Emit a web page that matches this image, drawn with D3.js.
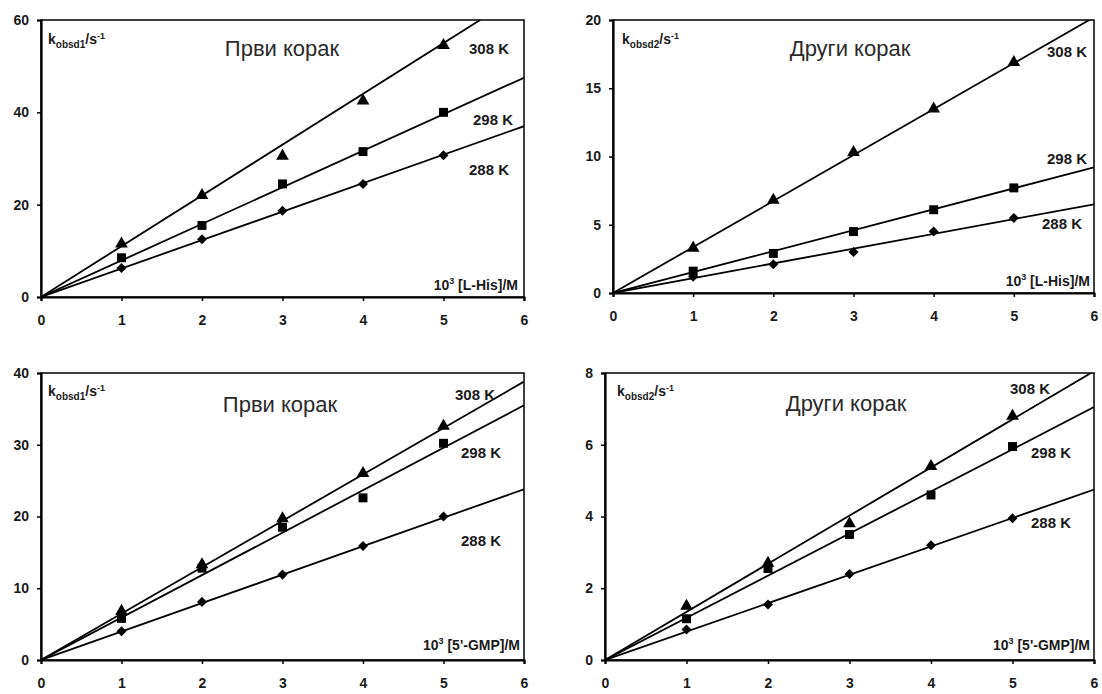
<!DOCTYPE html>
<html>
<head>
<meta charset="utf-8">
<title>kobsd vs concentration</title>
<script src="https://d3js.org/d3.v7.min.js"></script>
<style>
  body { margin: 0; background: #fff; }
  text { font-family: "Liberation Sans", Arial, sans-serif; fill: #1a1a1a; }
  .tick text { font-weight: bold; font-size: 14px; }
</style>
</head>
<body>
<script>
// x values (10^3 c / M)
var conc = [1, 2, 3, 4, 5]
var tempLabels = ["308 K", "298 K", "288 K"]

// L-His, first step
var his1_308 = [11.5, 22.0, 30.5, 42.5, 54.5]
var his1_298 = [8.5, 15.5, 24.5, 31.5, 40.0]
var his1_288 = [6.3, 12.5, 18.7, 24.5, 30.7]
var his1_fit6 = [66.0, 47.5, 37.0]   // fitted line value at x = 6

// L-His, second step
var his2_308 = [3.3, 6.8, 10.3, 13.5, 16.9]
var his2_298 = [1.6, 2.9, 4.5, 6.1, 7.7]
var his2_288 = [1.2, 2.1, 3.0, 4.5, 5.5]
var his2_fit6 = [20.2, 9.2, 6.5]

// 5'-GMP, first step
var gmp1_308 = [6.8, 13.3, 19.7, 26.0, 32.6]
var gmp1_298 = [5.8, 12.8, 18.5, 22.6, 30.2]
var gmp1_288 = [4.0, 8.1, 11.9, 15.9, 20.0]
var gmp1_fit6 = [38.8, 35.5, 23.8]

// 5'-GMP, second step
var gmp2_308 = [1.5, 2.7, 3.8, 5.4, 6.8]
var gmp2_298 = [1.15, 2.55, 3.5, 4.6, 5.95]
var gmp2_288 = [0.85, 1.55, 2.4, 3.2, 3.95]
var gmp2_fit6 = [8.05, 7.05, 4.75]

var panels = [
  { box: [41, 20, 524, 297], ymax: 60, yticks: [0, 20, 40, 60], step: "1", title: "Први корак", lig: "[L-His]/M",
    series: [his1_308, his1_298, his1_288], fit: his1_fit6,
    titlePos: [282, 56], kPos: [48, 44], xlPos: [518, 290],
    tPos: [[469, 54], [473, 125], [469, 175]] },
  { box: [613, 20, 1094, 293], ymax: 20, yticks: [0, 5, 10, 15, 20], step: "2", title: "Други корак", lig: "[L-His]/M",
    series: [his2_308, his2_298, his2_288], fit: his2_fit6,
    titlePos: [850, 56], kPos: [622, 44], xlPos: [1090, 286],
    tPos: [[1047, 57], [1047, 164], [1042, 229]] },
  { box: [41, 373, 524, 660], ymax: 40, yticks: [0, 10, 20, 30, 40], step: "1", title: "Први корак", lig: "[5'-GMP]/M",
    series: [gmp1_308, gmp1_298, gmp1_288], fit: gmp1_fit6,
    titlePos: [280, 412], kPos: [48, 396], xlPos: [520, 650],
    tPos: [[455, 400], [461, 458], [461, 546]] },
  { box: [605, 373, 1094, 660], ymax: 8, yticks: [0, 2, 4, 6, 8], step: "2", title: "Други корак", lig: "[5'-GMP]/M",
    series: [gmp2_308, gmp2_298, gmp2_288], fit: gmp2_fit6,
    titlePos: [846, 411], kPos: [617, 396], xlPos: [1090, 650],
    tPos: [[1010, 394], [1031, 458], [1031, 528]] }
]

var shapes = [d3.symbolTriangle, d3.symbolSquare, d3.symbolDiamond2]
var sizes = [70, 80, 64]

var svg = d3.select("body").append("svg").attr("width", 1102).attr("height", 694)

panels.forEach(function(p, pi) {
  var b = p.box
  var x = d3.scaleLinear().domain([0, 6]).range([b[0], b[2]])
  var y = d3.scaleLinear().domain([0, p.ymax]).range([b[3], b[1]])
  var g = svg.append("g")

  g.append("clipPath").attr("id", "clip" + pi)
    .append("rect").attr("x", b[0]).attr("y", b[1]).attr("width", b[2] - b[0]).attr("height", b[3] - b[1])

  // frame (top/right thinner)
  g.append("rect").attr("x", b[0]).attr("y", b[1]).attr("width", b[2] - b[0]).attr("height", b[3] - b[1])
    .attr("fill", "none").attr("stroke", "#000").attr("stroke-width", 1.5)

  var xa = g.append("g").attr("transform", "translate(0," + b[3] + ")")
    .call(d3.axisBottom(x).ticks(6).tickSize(4).tickPadding(14).tickFormat(d3.format("d")))
  var ya = g.append("g").attr("transform", "translate(" + b[0] + ",0)")
    .call(d3.axisLeft(y).tickValues(p.yticks).tickSize(4).tickPadding(8).tickFormat(d3.format("d")))
  ;[xa, ya].forEach(function(a) {
    a.select(".domain").attr("stroke-width", 2.2).attr("stroke", "#000")
    a.selectAll(".tick line").attr("stroke-width", 1.5).attr("stroke", "#000")
    a.selectAll(".tick text").attr("fill", "#1a1a1a")
  })

  var plot = g.append("g").attr("clip-path", "url(#clip" + pi + ")")
  p.series.forEach(function(vals, si) {
    plot.append("line")
      .attr("x1", x(0)).attr("y1", y(0))
      .attr("x2", x(6)).attr("y2", y(p.fit[si]))
      .attr("stroke", "#000").attr("stroke-width", 1.8)
  })
  p.series.forEach(function(vals, si) {
    g.selectAll(".m" + si)
      .data(vals)
      .enter()
      .append("path")
      .attr("d", d3.symbol().type(shapes[si]).size(sizes[si]))
      .attr("transform", function(d, i) { return "translate(" + x(conc[i]) + "," + y(d) + ")" })
      .attr("fill", "#000")
  })

  g.append("text").attr("x", p.titlePos[0]).attr("y", p.titlePos[1])
    .attr("text-anchor", "middle").style("font-size", "22px").style("fill", "#2a2a2a").text(p.title)

  var k = g.append("text").attr("x", p.kPos[0]).attr("y", p.kPos[1])
    .style("font-size", "14px").style("font-weight", "bold")
  k.append("tspan").text("k")
  k.append("tspan").attr("dy", 4).style("font-size", "10px").text("obsd" + p.step)
  k.append("tspan").attr("dy", -4).text("/s")
  k.append("tspan").attr("dy", -5).style("font-size", "9px").text("-1")

  var xl = g.append("text").attr("x", p.xlPos[0]).attr("y", p.xlPos[1])
    .attr("text-anchor", "end").style("font-size", "14px").style("font-weight", "bold")
  xl.append("tspan").text("10")
  xl.append("tspan").attr("dy", -6).style("font-size", "9px").text("3")
  xl.append("tspan").attr("dy", 6).text(" " + p.lig)

  tempLabels.forEach(function(t, ti) {
    g.append("text").attr("x", p.tPos[ti][0]).attr("y", p.tPos[ti][1])
      .style("font-size", "15px").style("font-weight", "bold").text(t)
  })
})
</script>
</body>
</html>
